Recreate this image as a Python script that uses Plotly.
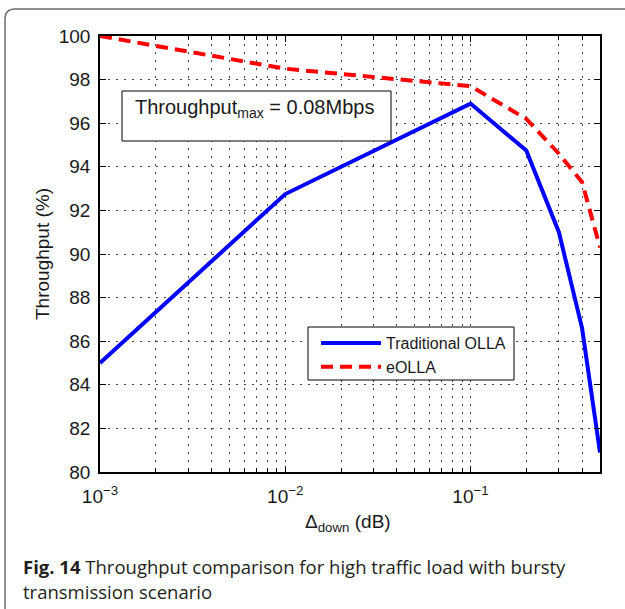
import math
import plotly.graph_objects as go

# Step size Delta_down (dB) and throughput (%) for each OLLA variant
delta_down = [0.001, 0.01, 0.1, 0.2, 0.3, 0.4, 0.5]
traditional_olla = [85.0, 92.75, 96.9, 94.75, 91.0, 86.6, 80.9]
eolla = [100.0, 98.5, 97.7, 96.2, 94.6, 93.3, 90.3]

x_tickvals = [0.001, 0.01, 0.1]
x_ticktext = ["10<sup>\u22123</sup>", "10<sup>\u22122</sup>", "10<sup>\u22121</sup>"]
y_tickvals = list(range(80, 101, 2))

W, H = 625, 609
L, R, T, B = 100, 600, 36, 472  # plot area in pixels


def px(xp):
    return (xp - L) / (R - L)


def py(yp):
    return (B - yp) / (B - T)


AX_FONT = dict(family="Liberation Sans, Arial, sans-serif", size=19, color="#1a1a1a")
GRID = dict(gridcolor="#444", gridwidth=1, griddash="2px,6px")

fig = go.Figure()
fig.add_trace(go.Scatter(
    x=delta_down, y=traditional_olla, mode="lines", name="Traditional OLLA",
    line=dict(color="#0000ff", width=4),
))
fig.add_trace(go.Scatter(
    x=delta_down, y=eolla, mode="lines", name="eOLLA",
    line=dict(color="#ff0000", width=4, dash="12px,7px"),
))

fig.update_xaxes(
    type="log", range=[math.log10(min(delta_down)), math.log10(max(delta_down))],
    tickvals=x_tickvals, ticktext=x_ticktext,
    ticks="inside", ticklen=6, tickcolor="black",
    showline=True, linecolor="black", linewidth=1.5, mirror="allticks",
    showgrid=True, **GRID,
    minor=dict(dtick="D1", ticks="inside", ticklen=4, tickcolor="black",
               showgrid=True, **GRID),
    tickfont=AX_FONT, zeroline=False, ticklabelstandoff=6,
)
fig.update_yaxes(
    range=[80, 100], tickvals=y_tickvals,
    ticks="inside", ticklen=6, tickcolor="black",
    showline=True, linecolor="black", linewidth=1.5, mirror="allticks",
    showgrid=True, **GRID,
    tickfont=AX_FONT, zeroline=False, ticklabelstandoff=4,
)

shapes = [
    # figure frame with rounded top-left corner
    dict(type="path", xref="paper", yref="paper",
         path=(f"M {px(5)},{py(W + 20)} L {px(5)},{py(19)} "
               f"Q {px(5)},{py(9)} {px(15)},{py(9)} L {px(640)},{py(9)}"),
         line=dict(color="#6e6e6e", width=1.5)),
    # box around the throughput note
    dict(type="rect", xref="paper", yref="paper",
         x0=px(122), x1=px(391), y0=py(141), y1=py(91),
         line=dict(color="black", width=1), fillcolor="white", layer="above"),
    # legend frame
    dict(type="rect", xref="paper", yref="paper",
         x0=px(308), x1=px(514), y0=py(380), y1=py(327),
         line=dict(color="black", width=1), fillcolor="white", layer="above"),
]

annotations = [
    dict(text="Throughput<sub>max</sub> = 0.08Mbps", xref="paper", yref="paper",
         x=px(133), y=py(108), xanchor="left", yanchor="middle", showarrow=False,
         font=dict(family="Liberation Sans, Arial, sans-serif", size=20, color="#1a1a1a")),
    dict(text="Throughput (%)", xref="paper", yref="paper", textangle=-90,
         x=px(42), y=py(254), xanchor="center", yanchor="middle", showarrow=False,
         font=dict(family="Liberation Sans, Arial, sans-serif", size=19, color="#1a1a1a")),
    dict(text="\u0394<sub>down</sub> (dB)", xref="paper", yref="paper",
         x=px(348), y=py(523), xanchor="center", yanchor="middle", showarrow=False,
         font=dict(family="Liberation Sans, Arial, sans-serif", size=19, color="#1a1a1a")),
    dict(text="<b>Fig. 14</b> Throughput comparison for high traffic load with bursty",
         xref="paper", yref="paper", x=px(21), y=py(566), xanchor="left", yanchor="middle",
         showarrow=False, font=dict(family="Open Sans, sans-serif", size=18.5, color="#231f20")),
    dict(text="transmission scenario",
         xref="paper", yref="paper", x=px(21), y=py(591), xanchor="left", yanchor="middle",
         showarrow=False, font=dict(family="Open Sans, sans-serif", size=18.5, color="#231f20")),
]

fig.update_layout(
    width=W, height=H,
    margin=dict(l=L, r=W - R, t=T, b=H - B),
    paper_bgcolor="white", plot_bgcolor="white",
    showlegend=True,
    legend=dict(x=px(316), y=py(326), xanchor="left", yanchor="top",
                bgcolor="rgba(0,0,0,0)", borderwidth=0,
                font=dict(family="Liberation Sans, Arial, sans-serif", size=16, color="#1a1a1a"),
                itemwidth=60, tracegroupgap=0),
    shapes=shapes, annotations=annotations,
)

fig.write_html("out.html")
